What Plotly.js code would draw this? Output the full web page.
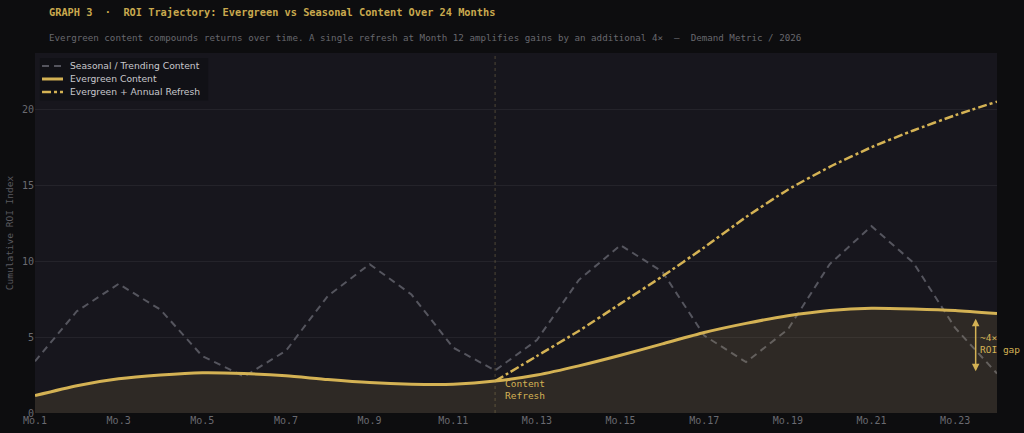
<!DOCTYPE html>
<html>
<head>
<meta charset="utf-8">
<script src="https://cdn.plot.ly/plotly-3.0.1.min.js"></script>
<style>
html,body{margin:0;padding:0;background:#0d0d0f;}
#chart{width:1024px;height:433px;}
</style>
</head>
<body>
<div id="chart"></div>
<script>
const months = [1,2,3,4,5,6,7,8,9,10,11,12,13,14,15,16,17,18,19,20,21,22,23,24];
const tickMonths = [1,3,5,7,9,11,13,15,17,19,21,23];
const tickLabels = tickMonths.map(m => 'Mo.' + m);
const seasonal = [3.4,6.7,8.5,6.8,3.75,2.4,4.1,7.7,9.8,7.8,4.3,2.8,4.8,8.75,11.05,9.3,5.1,3.35,5.5,9.8,12.3,9.9,5.6,2.6];
const evergreen = [1.15,1.8,2.25,2.5,2.65,2.6,2.45,2.2,2.0,1.9,1.9,2.1,2.5,3.1,3.8,4.55,5.3,5.9,6.4,6.75,6.9,6.85,6.75,6.55];
const refreshMonths = [12,13,14,15,16,17,18,19,20,21,22,23,24];
const refreshed = [2.1,3.75,5.4,7.2,9.0,10.9,12.9,14.7,16.2,17.5,18.6,19.6,20.5];
const seriesNames = ['Seasonal / Trending Content', 'Evergreen Content', 'Evergreen + Annual Refresh'];

const gold = '#d4b254';
const grayLine = '#55555e';
const mono = '"DejaVu Sans Mono", monospace';
const sans = '"DejaVu Sans", sans-serif';

const styles = [
  {color: grayLine, width: 2, dash: '7px,5px'},
  {color: gold, width: 3},
  {color: gold, width: 2.5, dash: 'dashdot'}
];

const traces = [
  {x: months, y: seasonal, name: seriesNames[0], mode: 'lines',
   line: {color: grayLine, width: 2, dash: '7px,5px'}},
  {x: months, y: evergreen, name: seriesNames[1], mode: 'lines',
   line: {color: gold, width: 3, shape: 'spline', smoothing: 0.6},
   fill: 'tozeroy', fillcolor: 'rgba(200,170,90,0.13)'},
  {x: refreshMonths, y: refreshed, name: seriesNames[2], mode: 'lines',
   line: {color: gold, width: 2.5, dash: 'dashdot', shape: 'spline', smoothing: 0.5}}
];

const shapes = [
  {type: 'line', xref: 'x', yref: 'paper', x0: 12, x1: 12, y0: 0, y1: 1,
   line: {color: 'rgba(180,160,100,0.35)', width: 1, dash: 'dot'}},
  // legend box
  {type: 'rect', xref: 'paper', yref: 'paper', x0: 0.005, x1: 0.18, y0: 0.868, y1: 0.986,
   fillcolor: 'rgba(16,16,20,0.7)', line: {width: 0}}
];
const annotations = [];
const rowY = [0.9639, 0.9278, 0.8917];
seriesNames.forEach((nm, i) => {
  shapes.push({type: 'line', xref: 'paper', yref: 'paper', x0: 0.0073, x1: 0.0291, y0: rowY[i], y1: rowY[i],
               line: styles[i]});
  annotations.push({xref: 'paper', yref: 'paper', x: 0.0343, y: rowY[i], xanchor: 'left', yanchor: 'middle',
                    showarrow: false, text: nm, font: {family: sans, size: 9.2, color: '#c8c8cc'}});
});

annotations.push(
  {xref: 'x', yref: 'y', x: 12.2, y: 1.55, xanchor: 'left', yanchor: 'middle', showarrow: false, align: 'left',
   text: 'Content<br>Refresh', font: {family: mono, size: 9.5, color: gold}},
  {xref: 'x', yref: 'y', x: 23.49, y: 2.75, ax: 23.49, ay: 6.3, axref: 'x', ayref: 'y',
   showarrow: true, arrowhead: 2, startarrowhead: 2, arrowside: 'end+start', arrowsize: 1, arrowwidth: 1.5,
   arrowcolor: gold, text: ''},
  {xref: 'x', yref: 'y', x: 23.55, y: 4.55, xanchor: 'left', yanchor: 'middle', showarrow: false, align: 'left',
   text: '~4×<br>ROI gap', font: {family: mono, size: 9.5, color: gold}},
  {xref: 'paper', yref: 'paper', x: 0.012, y: 1, yshift: 33, xanchor: 'left', yanchor: 'bottom', showarrow: false,
   text: '<b>GRAPH 3  ·  ROI Trajectory: Evergreen vs Seasonal Content Over 24 Months</b>',
   font: {family: mono, size: 10.3, color: '#c9a94e'}},
  {xref: 'paper', yref: 'paper', x: 0.012, y: 1, yshift: 8, xanchor: 'left', yanchor: 'bottom', showarrow: false,
   text: 'Evergreen content compounds returns over time. A single refresh at Month 12 amplifies gains by an additional 4×  —  Demand Metric / 2026',
   font: {family: mono, size: 9.2, color: '#68686e'}}
);

const layout = {
  width: 1024, height: 433,
  paper_bgcolor: '#0d0d0f', plot_bgcolor: '#17161d',
  margin: {l: 35, r: 27, t: 53, b: 20},
  showlegend: false,
  xaxis: {range: [1, 24], tickvals: tickMonths, ticktext: tickLabels, showgrid: false,
          zeroline: false, showline: false, ticks: '',
          tickfont: {family: mono, size: 10, color: '#6a6a70'}},
  yaxis: {range: [0, 23.7], tickvals: [0,5,10,15,20], showgrid: true, gridcolor: '#24232a',
          zeroline: false, ticks: '', tickfont: {family: mono, size: 10, color: '#6a6a70'},
          title: {text: 'Cumulative ROI Index', font: {family: mono, size: 9.5, color: '#5a5a60'}, standoff: 6}},
  shapes: shapes,
  annotations: annotations
};

Plotly.newPlot('chart', traces, layout, {displayModeBar: false, staticPlot: true});
</script>
</body>
</html>
